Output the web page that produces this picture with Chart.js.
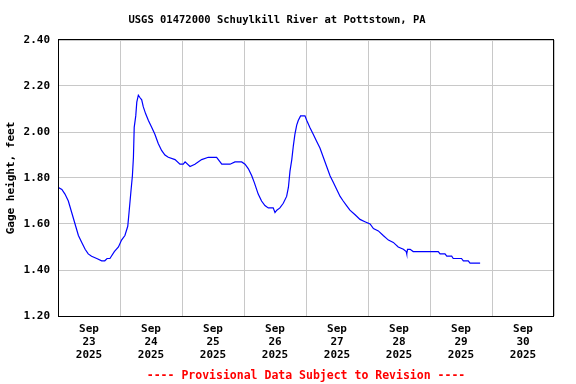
<!DOCTYPE html>
<html>
<head>
<meta charset="utf-8">
<script src="https://cdn.jsdelivr.net/npm/chart.js@4"></script>
<style>
  body { margin: 0; background: #fff; }
  canvas { display: block; }
</style>
</head>
<body>
<canvas id="gage" width="576" height="384"></canvas>
<script>
// hours since Sep 23 2025 00:00
const hours = [
  0, 1.5, 2.7, 4.0, 5.3, 6.6, 7.9, 9.2, 10.5, 11.7, 13.0, 15.0, 16.9, 18.1, 19.0, 20.1,
  21.8, 23.4, 24.6, 25.9, 27.0, 27.5, 28.3, 28.8, 29.2, 29.5, 30.1, 30.5, 31.1, 31.7,
  32.4, 33.0, 33.9, 35.0, 36.3, 37.5, 38.8, 40.1, 41.4, 42.7, 45.3, 47.2, 48.5, 49.2,
  51.1, 53.0, 55.6, 58.2, 61.4, 63.4, 66.6, 68.5, 71.1, 72.4, 73.7, 75.0, 76.0, 77.5,
  78.8, 80.1, 81.4, 83.3, 84.0, 84.7, 85.9, 87.2, 88.5, 89.2, 89.8, 90.5, 91.1, 91.7,
  92.4, 93.0, 93.9, 95.6, 96.3, 97.5, 98.8, 100.1, 101.4, 102.7, 104.0, 105.3, 106.6,
  107.9, 109.2, 110.4, 111.7, 113.0, 115.0, 116.9, 118.8, 120.8, 122.1, 124.0, 125.9,
  127.9, 129.8, 131.7, 133.7, 134.8, 135.0, 135.3, 136.3, 137.5, 147.2, 147.9, 149.8,
  150.5, 152.4, 153.0, 156.2, 156.9, 158.8, 159.5, 163.4
];
// gage height, feet
const gage = [
  1.76, 1.75, 1.73, 1.70, 1.65, 1.60, 1.55, 1.52, 1.49, 1.47, 1.46, 1.45, 1.44, 1.44, 1.45, 1.45,
  1.48, 1.50, 1.53, 1.55, 1.59, 1.65, 1.75, 1.81, 1.89, 2.02, 2.07, 2.13, 2.16, 2.15,
  2.14, 2.11, 2.08, 2.05, 2.02, 1.99, 1.95, 1.92, 1.90, 1.89, 1.88, 1.86, 1.86, 1.87,
  1.85, 1.86, 1.88, 1.89, 1.89, 1.86, 1.86, 1.87, 1.87, 1.86, 1.84, 1.81, 1.78, 1.73,
  1.70, 1.68, 1.67, 1.67, 1.65, 1.66, 1.67, 1.69, 1.72, 1.76, 1.83, 1.88, 1.94, 1.99,
  2.03, 2.05, 2.07, 2.07, 2.05, 2.02, 1.99, 1.96, 1.93, 1.89, 1.85, 1.81, 1.78,
  1.75, 1.72, 1.70, 1.68, 1.66, 1.64, 1.62, 1.61, 1.60, 1.58, 1.57, 1.55,
  1.53, 1.52, 1.50, 1.49, 1.48, 1.47, 1.49, 1.49, 1.48, 1.48, 1.47, 1.47,
  1.46, 1.46, 1.45, 1.45, 1.44, 1.44, 1.43, 1.43
];
const days = ['23', '24', '25', '26', '27', '28', '29', '30'];
const yTicks = [1.20, 1.40, 1.60, 1.80, 2.00, 2.20, 2.40];

const FONT = '"DejaVu Sans Mono", "Liberation Mono", monospace';
Chart.defaults.font.family = FONT;
Chart.defaults.font.weight = 'bold';
Chart.defaults.color = '#000';

// black box round the plot area
const frame = {
  id: 'frame',
  afterDraw(chart) {
    const { ctx, chartArea: a } = chart;
    ctx.save();
    ctx.strokeStyle = '#000';
    ctx.lineWidth = 1;
    ctx.strokeRect(Math.round(a.left) + 0.5, Math.round(a.top) - 0.5,
      Math.round(a.width) - 1, Math.round(a.height) + 1);
    ctx.restore();
  }
};

const ctx = document.getElementById('gage').getContext('2d');
new Chart(ctx, {
  type: 'line',
  data: {
    datasets: [{
      data: hours.map((h, i) => ({ x: h, y: gage[i] })),
      borderColor: '#0000ff',
      borderWidth: 1.2,
      pointRadius: 0,
      tension: 0,
      fill: false
    }]
  },
  options: {
    responsive: false,
    animation: false,
    devicePixelRatio: 1,
    layout: { padding: { left: 0, right: 22, top: 0, bottom: 0 } },
    plugins: {
      legend: { display: false },
      tooltip: { enabled: false },
      title: {
        display: true,
        text: 'USGS 01472000 Schuylkill River at Pottstown, PA',
        font: { size: 10.5, weight: 'bold' },
        color: '#000',
        padding: { top: 14, bottom: 13.4 }
      }
    },
    scales: {
      x: {
        type: 'linear',
        min: 0,
        max: 192,
        afterFit: s => { s.height = 68; },
        border: { display: false },
        grid: {
          drawTicks: false,
          color: c => (c.tick && c.tick.value % 24 === 0) ? '#c8c8c8' : 'rgba(0,0,0,0)'
        },
        ticks: {
          stepSize: 12,
          autoSkip: false,
          maxRotation: 0,
          padding: 7,
          font: { size: 11, weight: 'bold', lineHeight: '13px' },
          callback: v => (v % 24 === 12) ? ['Sep', days[(v - 12) / 24], '2025'] : ''
        },
        title: {
          display: true,
          text: '---- Provisional Data Subject to Revision ----',
          color: '#ff0000',
          font: { size: 11.5, weight: 'bold' },
          padding: { top: 0, bottom: 1 }
        }
      },
      y: {
        min: 1.2,
        max: 2.4,
        afterFit: s => { s.width = 58; },
        afterBuildTicks: s => { s.ticks = yTicks.map(v => ({ value: v })); },
        border: { display: false },
        grid: { drawTicks: false, color: '#c8c8c8' },
        ticks: {
          padding: 8,
          font: { size: 11, weight: 'bold' },
          callback: v => v.toFixed(2)
        },
        title: {
          display: true,
          text: 'Gage height, feet',
          font: { size: 11, weight: 'bold' },
          padding: { top: 5, bottom: 0 }
        }
      }
    }
  },
  plugins: [frame]
});
</script>
</body>
</html>
